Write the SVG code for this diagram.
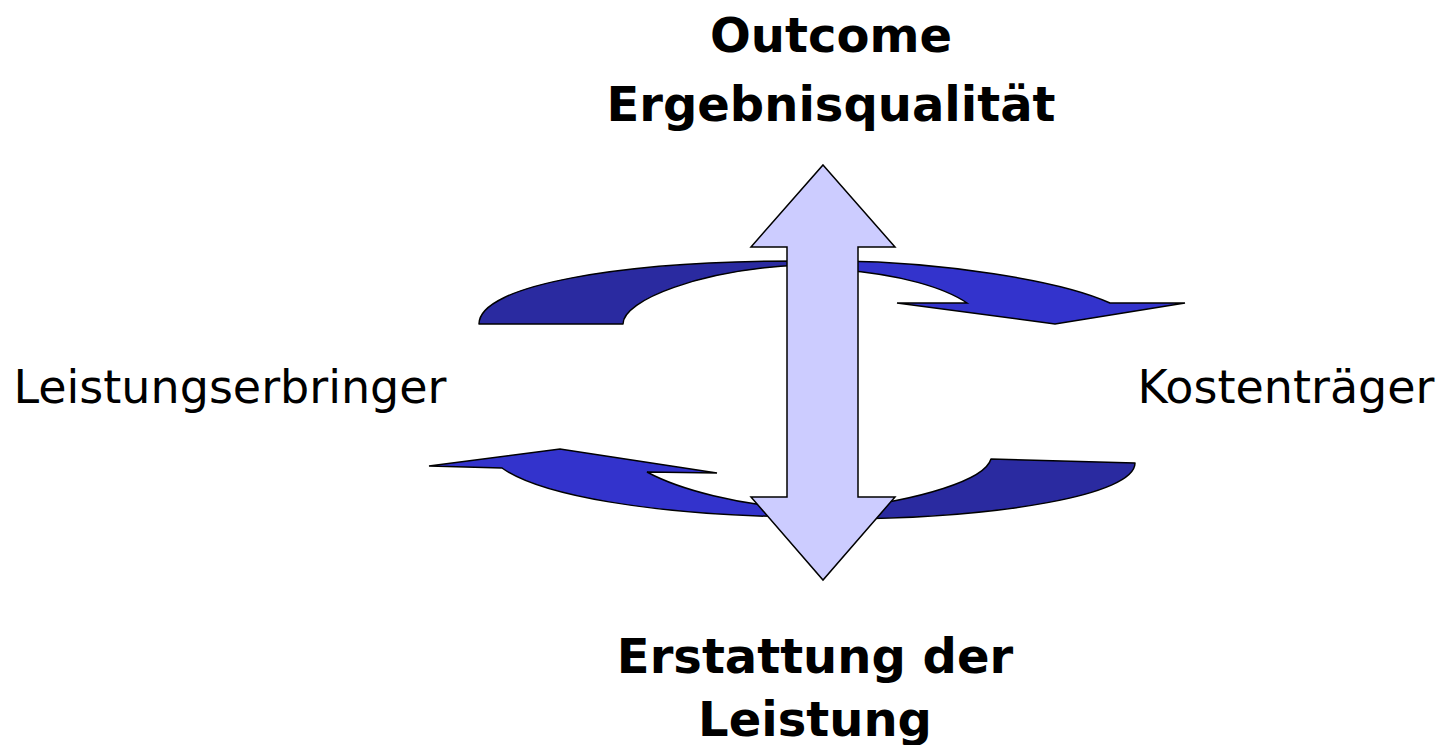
<svg xmlns="http://www.w3.org/2000/svg" width="1447" height="745" viewBox="0 0 1447 745">
<style>
.t{font-family:"DejaVu Sans","Liberation Sans",sans-serif;font-size:46px;fill:#000;text-anchor:middle}
.b{font-weight:bold;font-size:48px}
.dk{fill:#2A2AA0;stroke:#000;stroke-width:1.5;stroke-linejoin:round}
.lt{fill:#3333CC;stroke:#000;stroke-width:1.5;stroke-linejoin:miter}
.va{fill:#CCCCFF;stroke:#000;stroke-width:1.5;stroke-linejoin:miter}
</style>
<rect width="1447" height="745" fill="#fff"/>
<g id="connectors">
<path id="arc-top-left" class="dk" d="M479,324 C479,285 620,261 800,261 L800,265 C700,270 623,300 623,324 Z"/>
<path id="arc-top-right" class="lt" d="M840,261 C940,262 1060,280 1110,303 L1185,303 L1055,324 L897,303 L967,303 C945,288 900,274 840,270 Z"/>
<path id="arc-bottom-left" class="lt" d="M429,466 L560,449 L717,473 L647,472 C680,490 740,505 800,509 L800,517 C650,515 540,495 502,468 Z"/>
<path id="arc-bottom-right" class="dk" d="M991,459 L1135,463 C1135,495 1000,518 840,519 L840,509 C920,500 985,480 991,459 Z"/>
</g>
<g id="vertical-arrow">
<path class="va" d="M823,165 L895,247 L858,247 L858,497 L895,497 L823,580 L751,497 L787,497 L787,247 L751,247 Z"/>
</g>
<g id="outcome">
<text class="t b" x="831" y="52">Outcome</text>
<text class="t b" x="831" y="121">Ergebnisqualität</text>
</g>
<g id="leistungserbringer">
<text class="t" x="230" y="403">Leistungserbringer</text>
</g>
<g id="kostentraeger">
<text class="t" x="1286" y="403">Kostenträger</text>
</g>
<g id="erstattung">
<text class="t b" x="815" y="673">Erstattung der</text>
<text class="t b" x="815" y="736">Leistung</text>
</g>
</svg>
